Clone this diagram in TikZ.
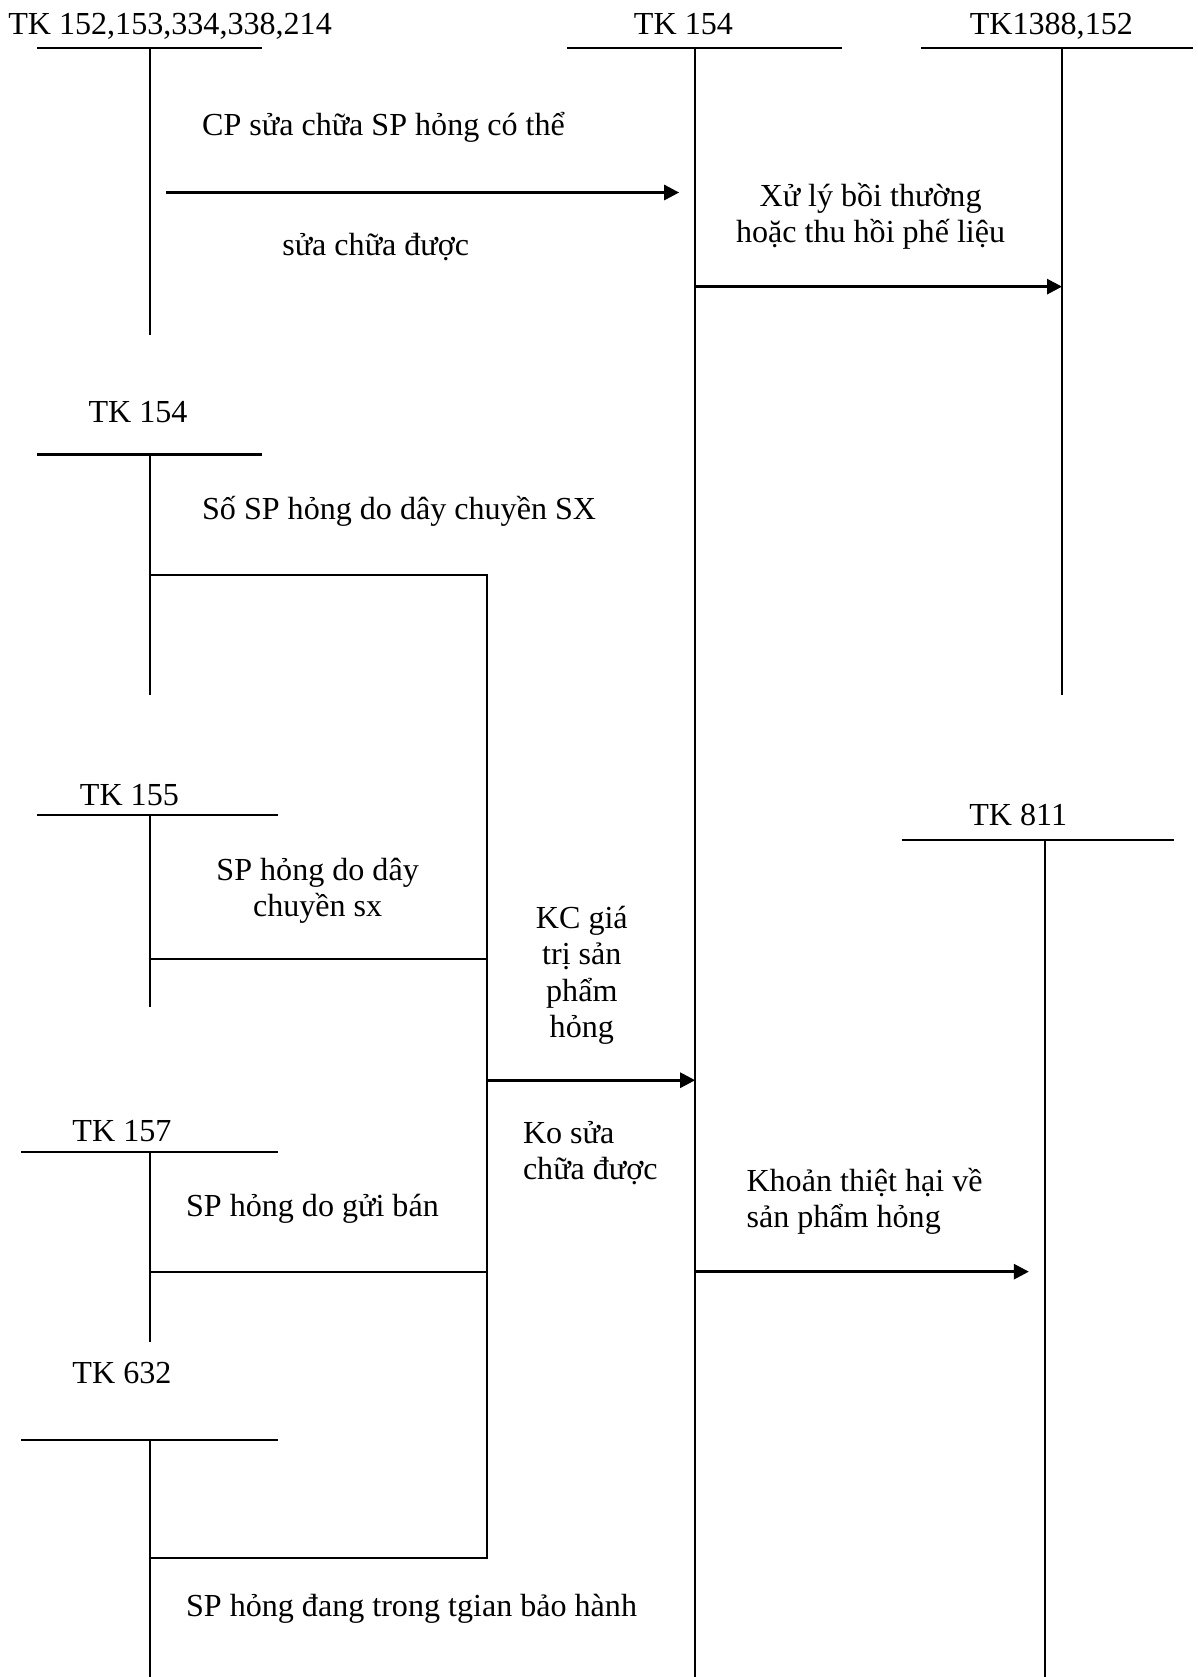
\documentclass[tikz,border=0pt]{standalone}
\usepackage{fontspec}
\setmainfont{Liberation Serif}
\usetikzlibrary{arrows.meta}

\begin{document}
\begin{tikzpicture}[x=0.5pt, y=-0.5pt, line width=1pt, >={Triangle[length=7pt, width=7pt]},
    font=\fontsize{15}{17}\selectfont, inner sep=0pt,
    acct/.style={anchor=base},
    note/.style={anchor=base west, align=left},
    flow/.style={->, line width=1.3pt}]
  \useasboundingbox (0,0) rectangle (1120,1568);

  \node[acct] (T1) at (159,32) {TK 152,153,334,338,214};
  \node[acct] (T2) at (639,32) {TK 154};
  \node[acct] (T3) at (983,32) {TK1388,152};
  \node[acct] (T4) at (129,395) {TK 154};
  \node[acct] (T5) at (121,753) {TK 155};
  \node[acct] (T6) at (114,1067) {TK 157};
  \node[acct] (T7) at (114,1294) {TK 632};
  \node[acct] (T8) at (952,772) {TK 811};

  \draw (35,45) -- (245,45) (140,45) -- (140,313);
  \draw (530,45) -- (787,45) (650,45) -- (650,1568);
  \draw (861,45) -- (1115,45) (993,45) -- (993,650);
  \draw (35,425) -- (245,425) (140,425) -- (140,650);
  \draw (35,762) -- (260,762) (140,762) -- (140,942);
  \draw (20,1077) -- (260,1077) (140,1077) -- (140,1255);
  \draw (20,1346) -- (260,1346) (140,1346) -- (140,1568);
  \draw (843,785) -- (1098,785) (977,785) -- (977,1568);

  \coordinate (V2) at (650,0);
  \coordinate (V3) at (993,0);
  \coordinate (P1) at (155,180);
  \coordinate (Q1) at (635,180);
  \coordinate (P2) at (650,268);
  \coordinate (J1) at (140,538);
  \coordinate (J2) at (140,897);
  \coordinate (J3) at (140,1189);
  \coordinate (J4) at (140,1457);
  \coordinate (K) at (455,1010);
  \coordinate (Q4) at (962,1189);

  \draw (J1) -- (J1 -| K) -- (J4 -| K) -- (J4);
  \draw (J2) -- (J2 -| K);
  \draw (J3) -- (J3 -| K);

  \draw[flow] (P1) -- (Q1);
  \draw[flow] (P2) -- (P2 -| V3);
  \draw[flow] (K) -- (K -| V2);
  \draw[flow] (Q4 -| V2) -- (Q4);

  \node[note] (n1) at (188,127) {CP sửa chữa SP hỏng có thể};
  \node[note] (n2) at (263,239) {sửa chữa được};
  \node[acct, align=center] (n3) at (814,227) {Xử lý bồi thường\\hoặc thu hồi phế liệu};
  \node[note] (n4) at (188,486) {Số SP hỏng do dây chuyền SX};
  \node[acct, align=center] (n5) at (297,857) {SP hỏng do dây\\chuyền sx};
  \node[acct, align=center] (n6) at (544,970) {KC giá\\trị sản\\phẩm\\hỏng};
  \node[note] (n7) at (488,1103) {Ko sửa\\chữa được};
  \node[note] (n8) at (173,1137) {SP hỏng do gửi bán};
  \node[note] (n9) at (697,1148) {Khoản thiệt hại về\\sản phẩm hỏng};
  \node[note] (n10) at (173,1511) {SP hỏng đang trong tgian bảo hành};
\end{tikzpicture}
\end{document}
